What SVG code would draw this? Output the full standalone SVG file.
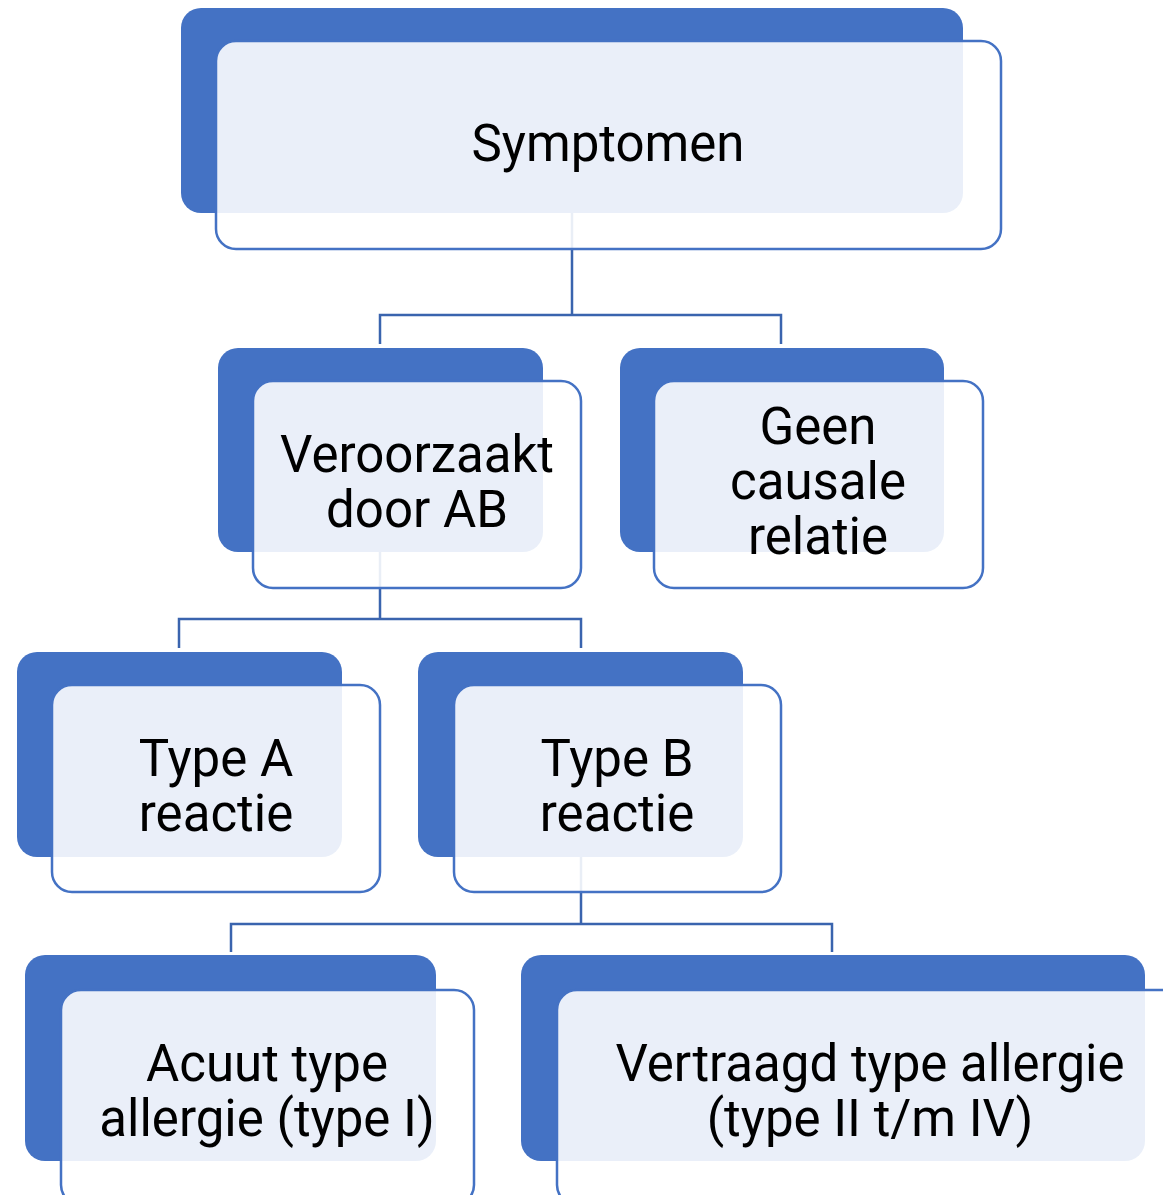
<svg xmlns="http://www.w3.org/2000/svg" width="1163" height="1195" viewBox="0 0 1163 1195">
<style>
.back{fill:#4472C4}
.front{fill:#ffffff;fill-opacity:0.89;stroke:#4472C4;stroke-width:2.5}
.lbl{font-family:Roboto,"Liberation Sans",sans-serif;font-size:51px;fill:#000;text-anchor:middle}
.conn{fill:none;stroke:#3A64AE;stroke-width:2.5}
</style>
<rect width="1163" height="1195" fill="#ffffff"/>
<g id="backs">
<rect class="back" x="181" y="8" width="782" height="205" rx="20"/>
<rect class="back" x="218" y="348" width="325" height="204" rx="20"/>
<rect class="back" x="620" y="348" width="324" height="204" rx="20"/>
<rect class="back" x="17" y="652" width="325" height="205" rx="20"/>
<rect class="back" x="418" y="652" width="325" height="205" rx="20"/>
<rect class="back" x="25" y="955" width="411" height="206" rx="20"/>
<rect class="back" x="521" y="955" width="624" height="206" rx="20"/>
</g>
<g id="connectors">
<path class="conn" d="M572,213 V315 M380,344 V315 H781 V344"/>
<path class="conn" d="M380,552 V619 M179,648 V619 H581 V648"/>
<path class="conn" d="M581,857 V924 M231,952 V924 H832 V952"/>
</g>
<g id="n1">
<rect class="front" x="216" y="41" width="785" height="208" rx="20"/>
<text class="lbl" x="608" y="161">Symptomen</text>
</g>
<g id="n2">
<rect class="front" x="253" y="381" width="328" height="207" rx="20"/>
<text class="lbl" x="417" y="472">Veroorzaakt</text>
<text class="lbl" x="417" y="527">door AB</text>
</g>
<g id="n3">
<rect class="front" x="654" y="381" width="329" height="207" rx="20"/>
<text class="lbl" x="818" y="444">Geen</text>
<text class="lbl" x="818" y="499">causale</text>
<text class="lbl" x="818" y="554">relatie</text>
</g>
<g id="n4">
<rect class="front" x="52" y="685" width="328" height="207" rx="20"/>
<text class="lbl" x="216" y="776">Type A</text>
<text class="lbl" x="216" y="831">reactie</text>
</g>
<g id="n5">
<rect class="front" x="454" y="685" width="327" height="207" rx="20"/>
<text class="lbl" x="617" y="776">Type B</text>
<text class="lbl" x="617" y="831">reactie</text>
</g>
<g id="n6">
<rect class="front" x="61" y="990" width="413" height="215" rx="20"/>
<text class="lbl" x="267" y="1081">Acuut type</text>
<text class="lbl" x="267" y="1136">allergie (type I)</text>
</g>
<g id="n7">
<rect class="front" x="557" y="990" width="640" height="215" rx="20"/>
<text class="lbl" x="870" y="1081">Vertraagd type allergie</text>
<text class="lbl" x="870" y="1136">(type II t/m IV)</text>
</g>
</svg>
